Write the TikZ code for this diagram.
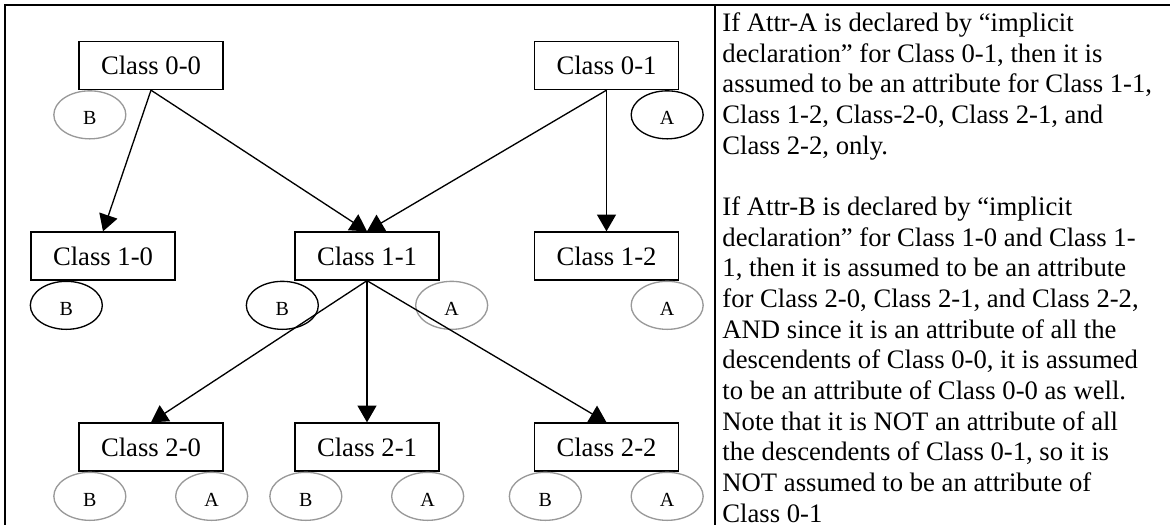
\documentclass[tikz,border=0pt]{standalone}
\usepackage{fontspec}
\setmainfont{Liberation Serif}
\usetikzlibrary{arrows.meta,shapes.geometric}

\begin{document}
\begin{tikzpicture}[x=0.45pt,y=-0.45pt,>={Triangle[length=7.5pt,width=8.5pt]},
    class node/.style={rectangle,draw,line width=0.6pt,minimum width=64.8pt,minimum height=21.6pt,font=\fontsize{12pt}{14pt}\selectfont},
    attr node/.style={ellipse,draw,line width=0.6pt,minimum width=32.4pt,minimum height=21.6pt,inner sep=0pt,anchor=north,text height=9pt,text depth=0pt,font=\fontsize{9pt}{10pt}\selectfont},
    implicit/.style={draw=black!40}]
    \useasboundingbox (0,0) rectangle (1170,525);
    \draw[line width=1pt] (1170,5) -- (5,5) -- (5,525);
    \draw[line width=1pt] (715,5) -- (715,525);

    \node[class node] (00) at (151,65.5) {Class 0-0};
    \node[class node] (01) at (606.5,65.5) {Class 0-1};
    \node[class node] (10) at (103,256) {Class 1-0};
    \node[class node] (11) at (367,256) {Class 1-1};
    \node[class node] (12) at (606.5,256) {Class 1-2};
    \node[class node] (20) at (151,447) {Class 2-0};
    \node[class node] (21) at (367,447) {Class 2-1};
    \node[class node] (22) at (606.5,447) {Class 2-2};

    \node[attr node,implicit] (00b) at ([shift={(11.5,0)}]00.south west) {B};
    \node[attr node] (01a) at ([shift={(-12,0)}]01.south east) {A};
    \node[attr node] (10b) at ([shift={(36,0)}]10.south west) {B};
    \node[attr node] (11b) at ([shift={(-12,0)}]11.south west) {B};
    \node[attr node,implicit] (11a) at ([shift={(12,0)}]11.south east) {A};
    \node[attr node,implicit] (12a) at ([shift={(-12,0)}]12.south east) {A};
    \node[attr node,implicit] (20b) at ([shift={(11.5,0)}]20.south west) {B};
    \node[attr node,implicit] (20a) at ([shift={(-12,0)}]20.south east) {A};
    \node[attr node,implicit] (21b) at ([shift={(11.5,0)}]21.south west) {B};
    \node[attr node,implicit] (21a) at ([shift={(-12,0)}]21.south east) {A};
    \node[attr node,implicit] (22b) at ([shift={(11.5,0)}]22.south west) {B};
    \node[attr node,implicit] (22a) at ([shift={(-12,0)}]22.south east) {A};

    \path[->,line width=0.6pt]
        (00.south) edge (10.north)
        (00.south) edge (11.north)
        (01.south) edge (11.north)
        (01.south) edge (12.north)
        (11.south) edge (20.north)
        (11.south) edge (21.north)
        (11.south) edge (22.north)
        ;

    \node[anchor=base west,align=left,inner sep=0pt,font=\fontsize{12pt}{13.8pt}\selectfont] (note) at (722,522)
        {If Attr-A is declared by “implicit\\
        declaration” for Class 0-1, then it is\\
        assumed to be an attribute for Class 1-1,\\
        Class 1-2, Class-2-0, Class 2-1, and\\
        Class 2-2, only.\\[13.8pt]
        If Attr-B is declared by “implicit\\
        declaration” for Class 1-0 and Class 1-\\
        1, then it is assumed to be an attribute\\
        for Class 2-0, Class 2-1, and Class 2-2,\\
        AND since it is an attribute of all the\\
        descendents of Class 0-0, it is assumed\\
        to be an attribute of Class 0-0 as well.\\
        Note that it is NOT an attribute of all\\
        the descendents of Class 0-1, so it is\\
        NOT assumed to be an attribute of\\
        Class 0-1};
\end{tikzpicture}
\end{document}
